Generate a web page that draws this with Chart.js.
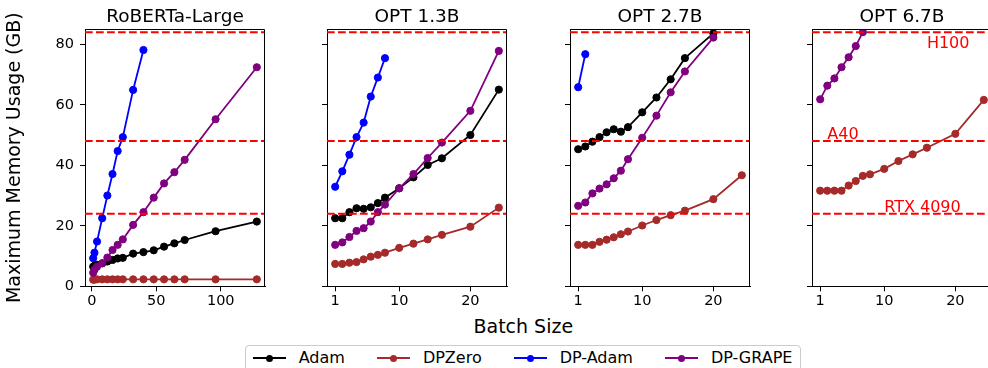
<!DOCTYPE html>
<html>
<head>
<meta charset="utf-8">
<script src="https://cdn.jsdelivr.net/npm/chart.js@4.4.1/dist/chart.umd.min.js"></script>
<style>
    html, body { margin: 0; padding: 0; background: #fff; }
    body {
        width: 988px; height: 368px; overflow: hidden; position: relative;
        font-family: 'DejaVu Sans', sans-serif; color: #000;
    }
    canvas { position: absolute; top: 0; }
    #xlabel {
        position: absolute; left: 0; width: 1046.6px; top: 316.6px;
        font-size: 19px; line-height: 19px; text-align: center;
    }
    #legend {
        position: absolute; left: 245px; top: 345px; width: 555.7px; height: 40px;
        box-sizing: border-box; border: 1px solid #ccc; border-radius: 4px;
        display: flex; gap: 32px; padding: 2.5px 0 0 6.7px;
    }
    #legend .item { display: flex; font-size: 16px; line-height: 18.6px; }
    #legend .handle { position: relative; width: 33.3px; height: 18.6px; margin-right: 12.7px; }
    #legend .ln { position: absolute; left: 0; right: 0; top: 8.8px; height: 2px; }
    #legend .dot { position: absolute; left: 13.1px; top: 6.3px; width: 7px; height: 7px; border-radius: 50%; }
</style>
</head>
<body>
<div id="xlabel">Batch Size</div>
<div id="legend"></div>
<script>
    var seriesNames = ['Adam', 'DPZero', 'DP-Adam', 'DP-GRAPE'];
    var seriesColors = ['black', 'brown', 'blue', 'purple'];
    var modelNames = ['RoBERTa-Large', 'OPT 1.3B', 'OPT 2.7B', 'OPT 6.7B'];

    var robertaBatch = [1, 2, 4, 8, 12, 16, 20, 24, 32, 40, 48, 56, 64, 72, 96, 128];
    var optBatch = [1, 2, 3, 4, 5, 6, 7, 8, 10, 12, 14, 16, 20, 24];
    var robertaTicks = [0, 50, 100];
    var optTicks = [1, 10, 20];
    var memoryTicks = [0, 20, 40, 60, 80];
    var memoryMax = 85;

    // GPU memory limits (GB)
    var gpuNames = ['RTX 4090', 'A40', 'H100'];
    var gpuMemory = [24, 48, 84];
    var gpuLabelX = [10, 2, 16];
    var gpuLabelY = [24.7, 48.6, 78.7];

    // Max memory (GB) per batch size; shorter arrays = out of memory beyond that
    var robertaAdam = [6.5, 6.8, 7.1, 7.6, 8.2, 8.7, 9.2, 9.4, 10.8, 11.3, 11.9, 13.1, 14.2, 15.3, 18.2, 21.4];
    var robertaDPZero = [2.2, 2.2, 2.3, 2.3, 2.3, 2.3, 2.3, 2.3, 2.3, 2.3, 2.3, 2.3, 2.3, 2.3, 2.3, 2.3];
    var robertaDPAdam = [9.3, 11.1, 14.8, 22.5, 30.0, 37.1, 44.7, 49.3, 64.9, 78.1];
    var robertaDPGrape = [4.5, 5.5, 6.5, 7.6, 9.5, 12.0, 13.7, 15.5, 20.3, 24.5, 29.3, 34.0, 37.7, 41.8, 55.2, 72.4];

    var opt13Adam = [22.5, 22.5, 24.5, 25.8, 25.6, 26.1, 27.5, 29.3, 32.4, 36.0, 40.1, 42.3, 50.0, 65.0];
    var opt13DPZero = [7.4, 7.4, 7.8, 8.0, 8.9, 9.8, 10.4, 11.1, 12.7, 14.1, 15.5, 17.0, 19.7, 26.0];
    var opt13DPAdam = [32.9, 38.0, 43.5, 49.3, 54.1, 62.7, 69.0, 75.4];
    var opt13DPGrape = [13.7, 14.5, 16.3, 18.3, 19.2, 21.4, 24.5, 27.0, 32.4, 37.1, 42.4, 47.5, 58.0, 77.8];

    var opt27Adam = [45.3, 46.2, 47.8, 49.3, 50.9, 51.9, 51.1, 52.6, 57.5, 62.4, 68.4, 75.4, 83.6];
    var opt27DPZero = [13.7, 13.7, 13.7, 14.7, 15.4, 16.2, 17.2, 18.1, 20.1, 21.9, 23.5, 25.0, 28.8, 36.7];
    var opt27DPAdam = [65.8, 76.7];
    var opt27DPGrape = [26.6, 27.7, 30.7, 32.3, 33.7, 35.7, 38.2, 42.0, 49.1, 56.4, 64.1, 71.0, 82.2];

    var opt67Adam = [];
    var opt67DPZero = [31.6, 31.6, 31.6, 31.6, 33.3, 34.8, 36.5, 37.0, 38.8, 41.4, 43.6, 45.8, 50.4, 61.6];
    var opt67DPAdam = [];
    var opt67DPGrape = [61.8, 66.3, 68.7, 72.4, 75.7, 79.4, 84.0];

    var panels = [
        { batch: robertaBatch, ticks: robertaTicks, series: [robertaAdam, robertaDPZero, robertaDPAdam, robertaDPGrape] },
        { batch: optBatch, ticks: optTicks, series: [opt13Adam, opt13DPZero, opt13DPAdam, opt13DPGrape] },
        { batch: optBatch, ticks: optTicks, series: [opt27Adam, opt27DPZero, opt27DPAdam, opt27DPGrape] },
        { batch: optBatch, ticks: optTicks, series: [opt67Adam, opt67DPZero, opt67DPAdam, opt67DPGrape], labels: true }
    ];

    // layout
    var panelLeft = [85, 327, 569.5, 812];
    var plotWidth = 180;
    var plotBottom = 286.3;
    var canvasHeight = 330;

    Chart.defaults.font.family = "'DejaVu Sans', sans-serif";
    Chart.defaults.color = '#000';

    var decor = {
        id: 'decor',
        afterDatasetsDraw: function(chart, args, opts) {
            var ctx = chart.ctx;
            var area = chart.chartArea;
            var y = chart.scales.y;
            var x = chart.scales.x;
            ctx.save();
            // GPU memory limits
            ctx.strokeStyle = 'red';
            ctx.lineWidth = 2;
            ctx.setLineDash([7.7, 3.3]);
            gpuMemory.forEach(function(v) {
                var py = y.getPixelForValue(v);
                ctx.beginPath();
                ctx.moveTo(area.left, py);
                ctx.lineTo(area.right, py);
                ctx.stroke();
            });
            ctx.setLineDash([]);
            if (opts.labels) {
                ctx.fillStyle = 'red';
                ctx.font = "16px 'DejaVu Sans'";
                ctx.textAlign = 'left';
                ctx.textBaseline = 'alphabetic';
                gpuNames.forEach(function(name, i) {
                    ctx.fillText(name, x.getPixelForValue(gpuLabelX[i]), y.getPixelForValue(gpuLabelY[i]));
                });
            }
            // top / right spines
            ctx.strokeStyle = '#000';
            ctx.lineWidth = 1;
            var top = Math.round(area.top) + 0.5;
            var right = Math.round(area.right) - 0.5;
            ctx.beginPath();
            ctx.moveTo(area.left, top);
            ctx.lineTo(right, top);
            ctx.lineTo(right, area.bottom);
            ctx.stroke();
            ctx.restore();
        }
    };

    function buildPanel(p, i) {
        var first = i === 0;
        var axisWidth = first ? 85 : 10;
        var canvas = document.createElement('canvas');
        canvas.width = axisWidth + plotWidth + 10;
        canvas.height = canvasHeight;
        canvas.style.left = (panelLeft[i] - axisWidth) + 'px';
        document.body.appendChild(canvas);

        var lo = p.batch[0];
        var hi = p.batch[p.batch.length - 1];
        var pad = (hi - lo) * 0.05;

        var datasets = [];
        p.series.forEach(function(ys, k) {
            if (!ys.length) {
                return;
            }
            datasets.push({
                label: seriesNames[k],
                data: ys.map(function(v, j) { return { x: p.batch[j], y: v }; }),
                borderColor: seriesColors[k],
                backgroundColor: seriesColors[k],
                borderWidth: 1.8,
                pointRadius: 3.6,
                pointBorderWidth: 1,
                pointHoverRadius: 3.6,
                order: 4 - k
            });
        });

        new Chart(canvas, {
            type: 'line',
            data: { datasets: datasets },
            plugins: [decor],
            options: {
                responsive: false,
                animation: false,
                layout: { padding: { right: 10 } },
                plugins: {
                    legend: { display: false },
                    tooltip: { enabled: false },
                    title: {
                        display: true,
                        text: modelNames[i],
                        fullSize: false,
                        font: { size: 18.5, weight: 'normal' },
                        padding: { top: 6, bottom: 0.9 }
                    },
                    decor: { labels: !!p.labels }
                },
                scales: {
                    x: {
                        type: 'linear',
                        min: lo - pad,
                        max: hi + pad,
                        afterBuildTicks: function(s) {
                            s.ticks = p.ticks.map(function(v) { return { value: v }; });
                        },
                        afterFit: function(s) {
                            s.height = canvasHeight - plotBottom;
                        },
                        grid: { drawOnChartArea: false, tickLength: 5, color: '#000' },
                        border: { color: '#000' },
                        ticks: { font: { size: 14.5 }, padding: 1.5, maxRotation: 0, autoSkip: false }
                    },
                    y: {
                        min: 0,
                        max: memoryMax,
                        afterBuildTicks: function(s) {
                            s.ticks = memoryTicks.map(function(v) { return { value: v }; });
                        },
                        afterFit: function(s) {
                            s.width = axisWidth;
                        },
                        grid: { drawOnChartArea: false, tickLength: 5, color: '#000' },
                        border: { color: '#000' },
                        ticks: { display: first, font: { size: 14.5 }, padding: 6 },
                        title: {
                            display: first,
                            text: 'Maximum Memory Usage (GB)',
                            font: { size: 19 },
                            padding: { top: 4 }
                        }
                    }
                }
            }
        });
    }

    panels.forEach(buildPanel);

    // shared legend
    var legend = document.getElementById('legend');
    seriesNames.forEach(function(name, k) {
        var item = document.createElement('div');
        item.className = 'item';
        item.innerHTML = '<span class="handle"><i class="ln" style="background:' + seriesColors[k] +
            '"></i><i class="dot" style="background:' + seriesColors[k] + '"></i></span><span>' + name + '</span>';
        legend.appendChild(item);
    });
</script>
</body>
</html>
